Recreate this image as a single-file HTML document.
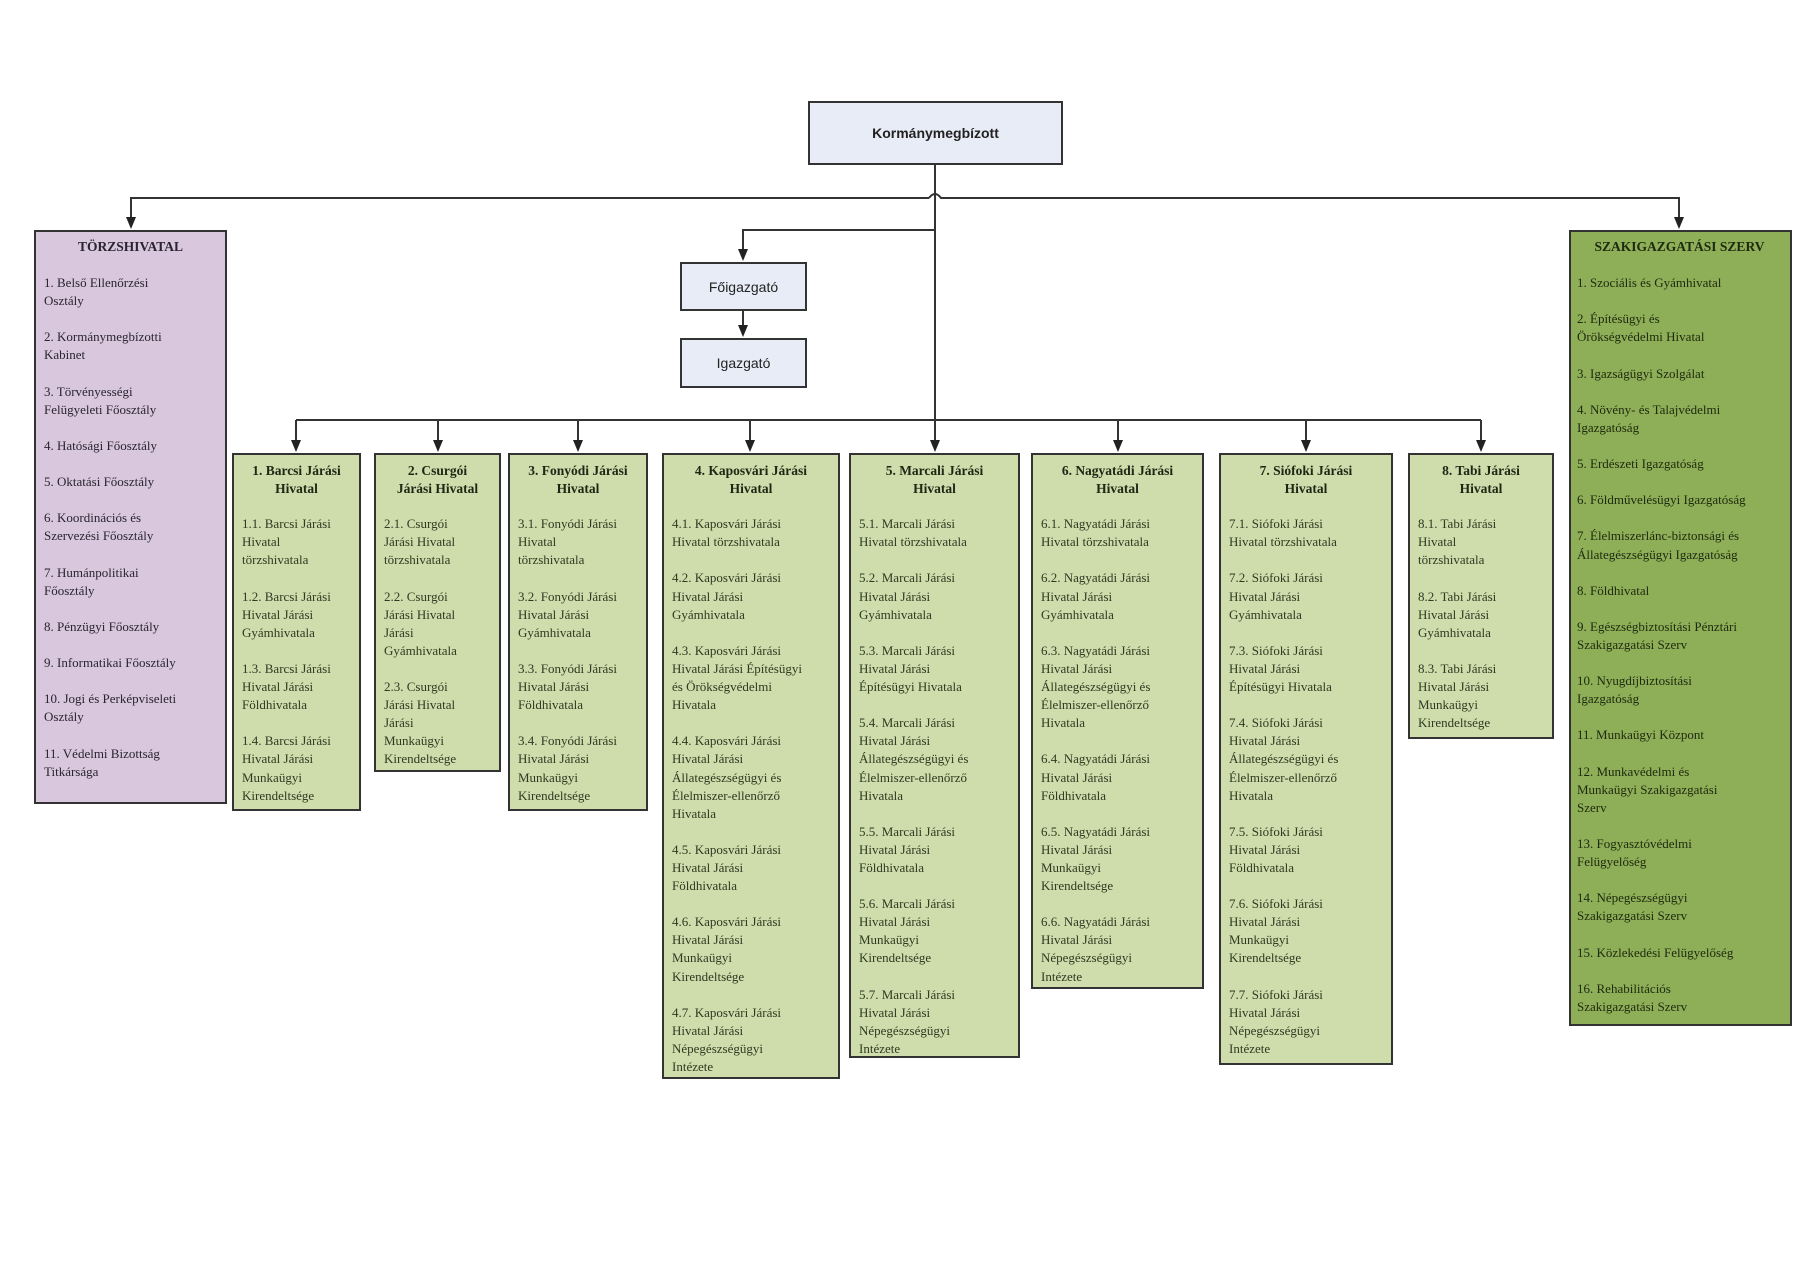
<!DOCTYPE html>
<html><head><meta charset="utf-8"><style>
body{margin:0;width:1801px;height:1274px;background:#fff;position:relative;overflow:hidden;font-family:"Liberation Serif",serif;}
.b{position:absolute;box-sizing:border-box;border:2px solid #333;font-size:13px;line-height:18.1px;color:#2e3a22;white-space:nowrap;}
.g{background:#cfdcab;padding:7px 0 0 8px;}
.g h{display:block;font-weight:bold;text-align:center;margin:0 0 17px -8px;color:#1e2614;font-size:13.5px;}
.b p{margin:0 0 18.1px 0;}
.p{background:#d8c7dd;padding:6px 0 0 8px;color:#2a2430;}
.s{background:#8eae57;padding:6px 0 0 6px;color:#1d2a0e;}
.p h,.s h{display:block;font-weight:bold;text-align:center;margin:0 0 18px -8px;font-size:13.5px;}
.w{position:absolute;box-sizing:border-box;border:2px solid #333;background:#e8ecf7;font-family:"Liberation Sans",sans-serif;font-size:14px;display:flex;align-items:center;justify-content:center;color:#222;}
</style></head><body>
<svg width="1801" height="1274" style="position:absolute;left:0;top:0">
<g stroke="#333" stroke-width="2" fill="none">
<path d="M935,165 V443"/>
<path d="M929,198 H131 V220"/>
<path d="M929,198 Q935,190 941,198 H1679 V220"/>
<path d="M935,230 H743 V252"/>
<path d="M743,311 V328"/>
<path d="M296,420 H1481"/>
<path d="M296,420 V443 M438,420 V443 M578,420 V443 M750,420 V443 M1118,420 V443 M1306,420 V443 M1481,420 V443"/>
</g>
<g fill="#222">
<path d="M126,217 h10 l-5,12 z"/><path d="M1674,217 h10 l-5,12 z"/>
<path d="M738,249 h10 l-5,12 z"/><path d="M738,325 h10 l-5,12 z"/>
<path d="M291,440 h10 l-5,12 z"/><path d="M433,440 h10 l-5,12 z"/><path d="M573,440 h10 l-5,12 z"/><path d="M745,440 h10 l-5,12 z"/><path d="M930,440 h10 l-5,12 z"/><path d="M1113,440 h10 l-5,12 z"/><path d="M1301,440 h10 l-5,12 z"/><path d="M1476,440 h10 l-5,12 z"/>
</g></svg>
<div class="w" style="left:808px;top:101px;width:255px;height:64px;font-weight:bold">Kormánymegbízott</div>
<div class="w" style="left:680px;top:262px;width:127px;height:49px">Főigazgató</div>
<div class="w" style="left:680px;top:338px;width:127px;height:50px">Igazgató</div>

<div class="b p" style="left:34px;top:230px;width:193px;height:574px"><h>TÖRZSHIVATAL</h>
<p>1. Belső Ellenőrzési<br>Osztály</p><p>2. Kormánymegbízotti<br>Kabinet</p><p>3. Törvényességi<br>Felügyeleti Főosztály</p><p>4. Hatósági Főosztály</p><p>5. Oktatási Főosztály</p><p>6. Koordinációs és<br>Szervezési Főosztály</p><p>7. Humánpolitikai<br>Főosztály</p><p>8. Pénzügyi Főosztály</p><p>9. Informatikai Főosztály</p><p>10. Jogi és Perképviseleti<br>Osztály</p><p>11. Védelmi Bizottság<br>Titkársága</p></div>

<div class="b s" style="left:1569px;top:230px;width:223px;height:796px"><h>SZAKIGAZGATÁSI SZERV</h>
<p>1. Szociális és Gyámhivatal</p><p>2. Építésügyi és<br>Örökségvédelmi Hivatal</p><p>3. Igazságügyi Szolgálat</p><p>4. Növény- és Talajvédelmi<br>Igazgatóság</p><p>5. Erdészeti Igazgatóság</p><p>6. Földművelésügyi Igazgatóság</p><p>7. Élelmiszerlánc-biztonsági és<br>Állategészségügyi Igazgatóság</p><p>8. Földhivatal</p><p>9. Egészségbiztosítási Pénztári<br>Szakigazgatási Szerv</p><p>10. Nyugdíjbiztosítási<br>Igazgatóság</p><p>11. Munkaügyi Központ</p><p>12. Munkavédelmi és<br>Munkaügyi Szakigazgatási<br>Szerv</p><p>13. Fogyasztóvédelmi<br>Felügyelőség</p><p>14. Népegészségügyi<br>Szakigazgatási Szerv</p><p>15. Közlekedési Felügyelőség</p><p>16. Rehabilitációs<br>Szakigazgatási Szerv</p></div>

<div class="b g" style="left:232px;top:453px;width:129px;height:358px"><h>1. Barcsi Járási<br>Hivatal</h>
<p>1.1. Barcsi Járási<br>Hivatal<br>törzshivatala</p><p>1.2. Barcsi Járási<br>Hivatal Járási<br>Gyámhivatala</p><p>1.3. Barcsi Járási<br>Hivatal Járási<br>Földhivatala</p><p>1.4. Barcsi Járási<br>Hivatal Járási<br>Munkaügyi<br>Kirendeltsége</p></div>

<div class="b g" style="left:374px;top:453px;width:127px;height:319px"><h>2. Csurgói<br>Járási Hivatal</h>
<p>2.1. Csurgói<br>Járási Hivatal<br>törzshivatala</p><p>2.2. Csurgói<br>Járási Hivatal<br>Járási<br>Gyámhivatala</p><p>2.3. Csurgói<br>Járási Hivatal<br>Járási<br>Munkaügyi<br>Kirendeltsége</p></div>

<div class="b g" style="left:508px;top:453px;width:140px;height:358px"><h>3. Fonyódi Járási<br>Hivatal</h>
<p>3.1. Fonyódi Járási<br>Hivatal<br>törzshivatala</p><p>3.2. Fonyódi Járási<br>Hivatal Járási<br>Gyámhivatala</p><p>3.3. Fonyódi Járási<br>Hivatal Járási<br>Földhivatala</p><p>3.4. Fonyódi Járási<br>Hivatal Járási<br>Munkaügyi<br>Kirendeltsége</p></div>

<div class="b g" style="left:662px;top:453px;width:178px;height:626px"><h>4. Kaposvári Járási<br>Hivatal</h>
<p>4.1. Kaposvári Járási<br>Hivatal törzshivatala</p><p>4.2. Kaposvári Járási<br>Hivatal Járási<br>Gyámhivatala</p><p>4.3. Kaposvári Járási<br>Hivatal Járási Építésügyi<br>és Örökségvédelmi<br>Hivatala</p><p>4.4. Kaposvári Járási<br>Hivatal Járási<br>Állategészségügyi és<br>Élelmiszer-ellenőrző<br>Hivatala</p><p>4.5. Kaposvári Járási<br>Hivatal Járási<br>Földhivatala</p><p>4.6. Kaposvári Járási<br>Hivatal Járási<br>Munkaügyi<br>Kirendeltsége</p><p>4.7. Kaposvári Járási<br>Hivatal Járási<br>Népegészségügyi<br>Intézete</p></div>

<div class="b g" style="left:849px;top:453px;width:171px;height:605px"><h>5. Marcali Járási<br>Hivatal</h>
<p>5.1. Marcali Járási<br>Hivatal törzshivatala</p><p>5.2. Marcali Járási<br>Hivatal Járási<br>Gyámhivatala</p><p>5.3. Marcali Járási<br>Hivatal Járási<br>Építésügyi Hivatala</p><p>5.4. Marcali Járási<br>Hivatal Járási<br>Állategészségügyi és<br>Élelmiszer-ellenőrző<br>Hivatala</p><p>5.5. Marcali Járási<br>Hivatal Járási<br>Földhivatala</p><p>5.6. Marcali Járási<br>Hivatal Járási<br>Munkaügyi<br>Kirendeltsége</p><p>5.7. Marcali Járási<br>Hivatal Járási<br>Népegészségügyi<br>Intézete</p></div>

<div class="b g" style="left:1031px;top:453px;width:173px;height:536px"><h>6. Nagyatádi Járási<br>Hivatal</h>
<p>6.1. Nagyatádi Járási<br>Hivatal törzshivatala</p><p>6.2. Nagyatádi Járási<br>Hivatal Járási<br>Gyámhivatala</p><p>6.3. Nagyatádi Járási<br>Hivatal Járási<br>Állategészségügyi és<br>Élelmiszer-ellenőrző<br>Hivatala</p><p>6.4. Nagyatádi Járási<br>Hivatal Járási<br>Földhivatala</p><p>6.5. Nagyatádi Járási<br>Hivatal Járási<br>Munkaügyi<br>Kirendeltsége</p><p>6.6. Nagyatádi Járási<br>Hivatal Járási<br>Népegészségügyi<br>Intézete</p></div>

<div class="b g" style="left:1219px;top:453px;width:174px;height:612px"><h>7. Siófoki Járási<br>Hivatal</h>
<p>7.1. Siófoki Járási<br>Hivatal törzshivatala</p><p>7.2. Siófoki Járási<br>Hivatal Járási<br>Gyámhivatala</p><p>7.3. Siófoki Járási<br>Hivatal Járási<br>Építésügyi Hivatala</p><p>7.4. Siófoki Járási<br>Hivatal Járási<br>Állategészségügyi és<br>Élelmiszer-ellenőrző<br>Hivatala</p><p>7.5. Siófoki Járási<br>Hivatal Járási<br>Földhivatala</p><p>7.6. Siófoki Járási<br>Hivatal Járási<br>Munkaügyi<br>Kirendeltsége</p><p>7.7. Siófoki Járási<br>Hivatal Járási<br>Népegészségügyi<br>Intézete</p></div>

<div class="b g" style="left:1408px;top:453px;width:146px;height:286px"><h>8. Tabi Járási<br>Hivatal</h>
<p>8.1. Tabi Járási<br>Hivatal<br>törzshivatala</p><p>8.2. Tabi Járási<br>Hivatal Járási<br>Gyámhivatala</p><p>8.3. Tabi Járási<br>Hivatal Járási<br>Munkaügyi<br>Kirendeltsége</p></div>
</body></html>
